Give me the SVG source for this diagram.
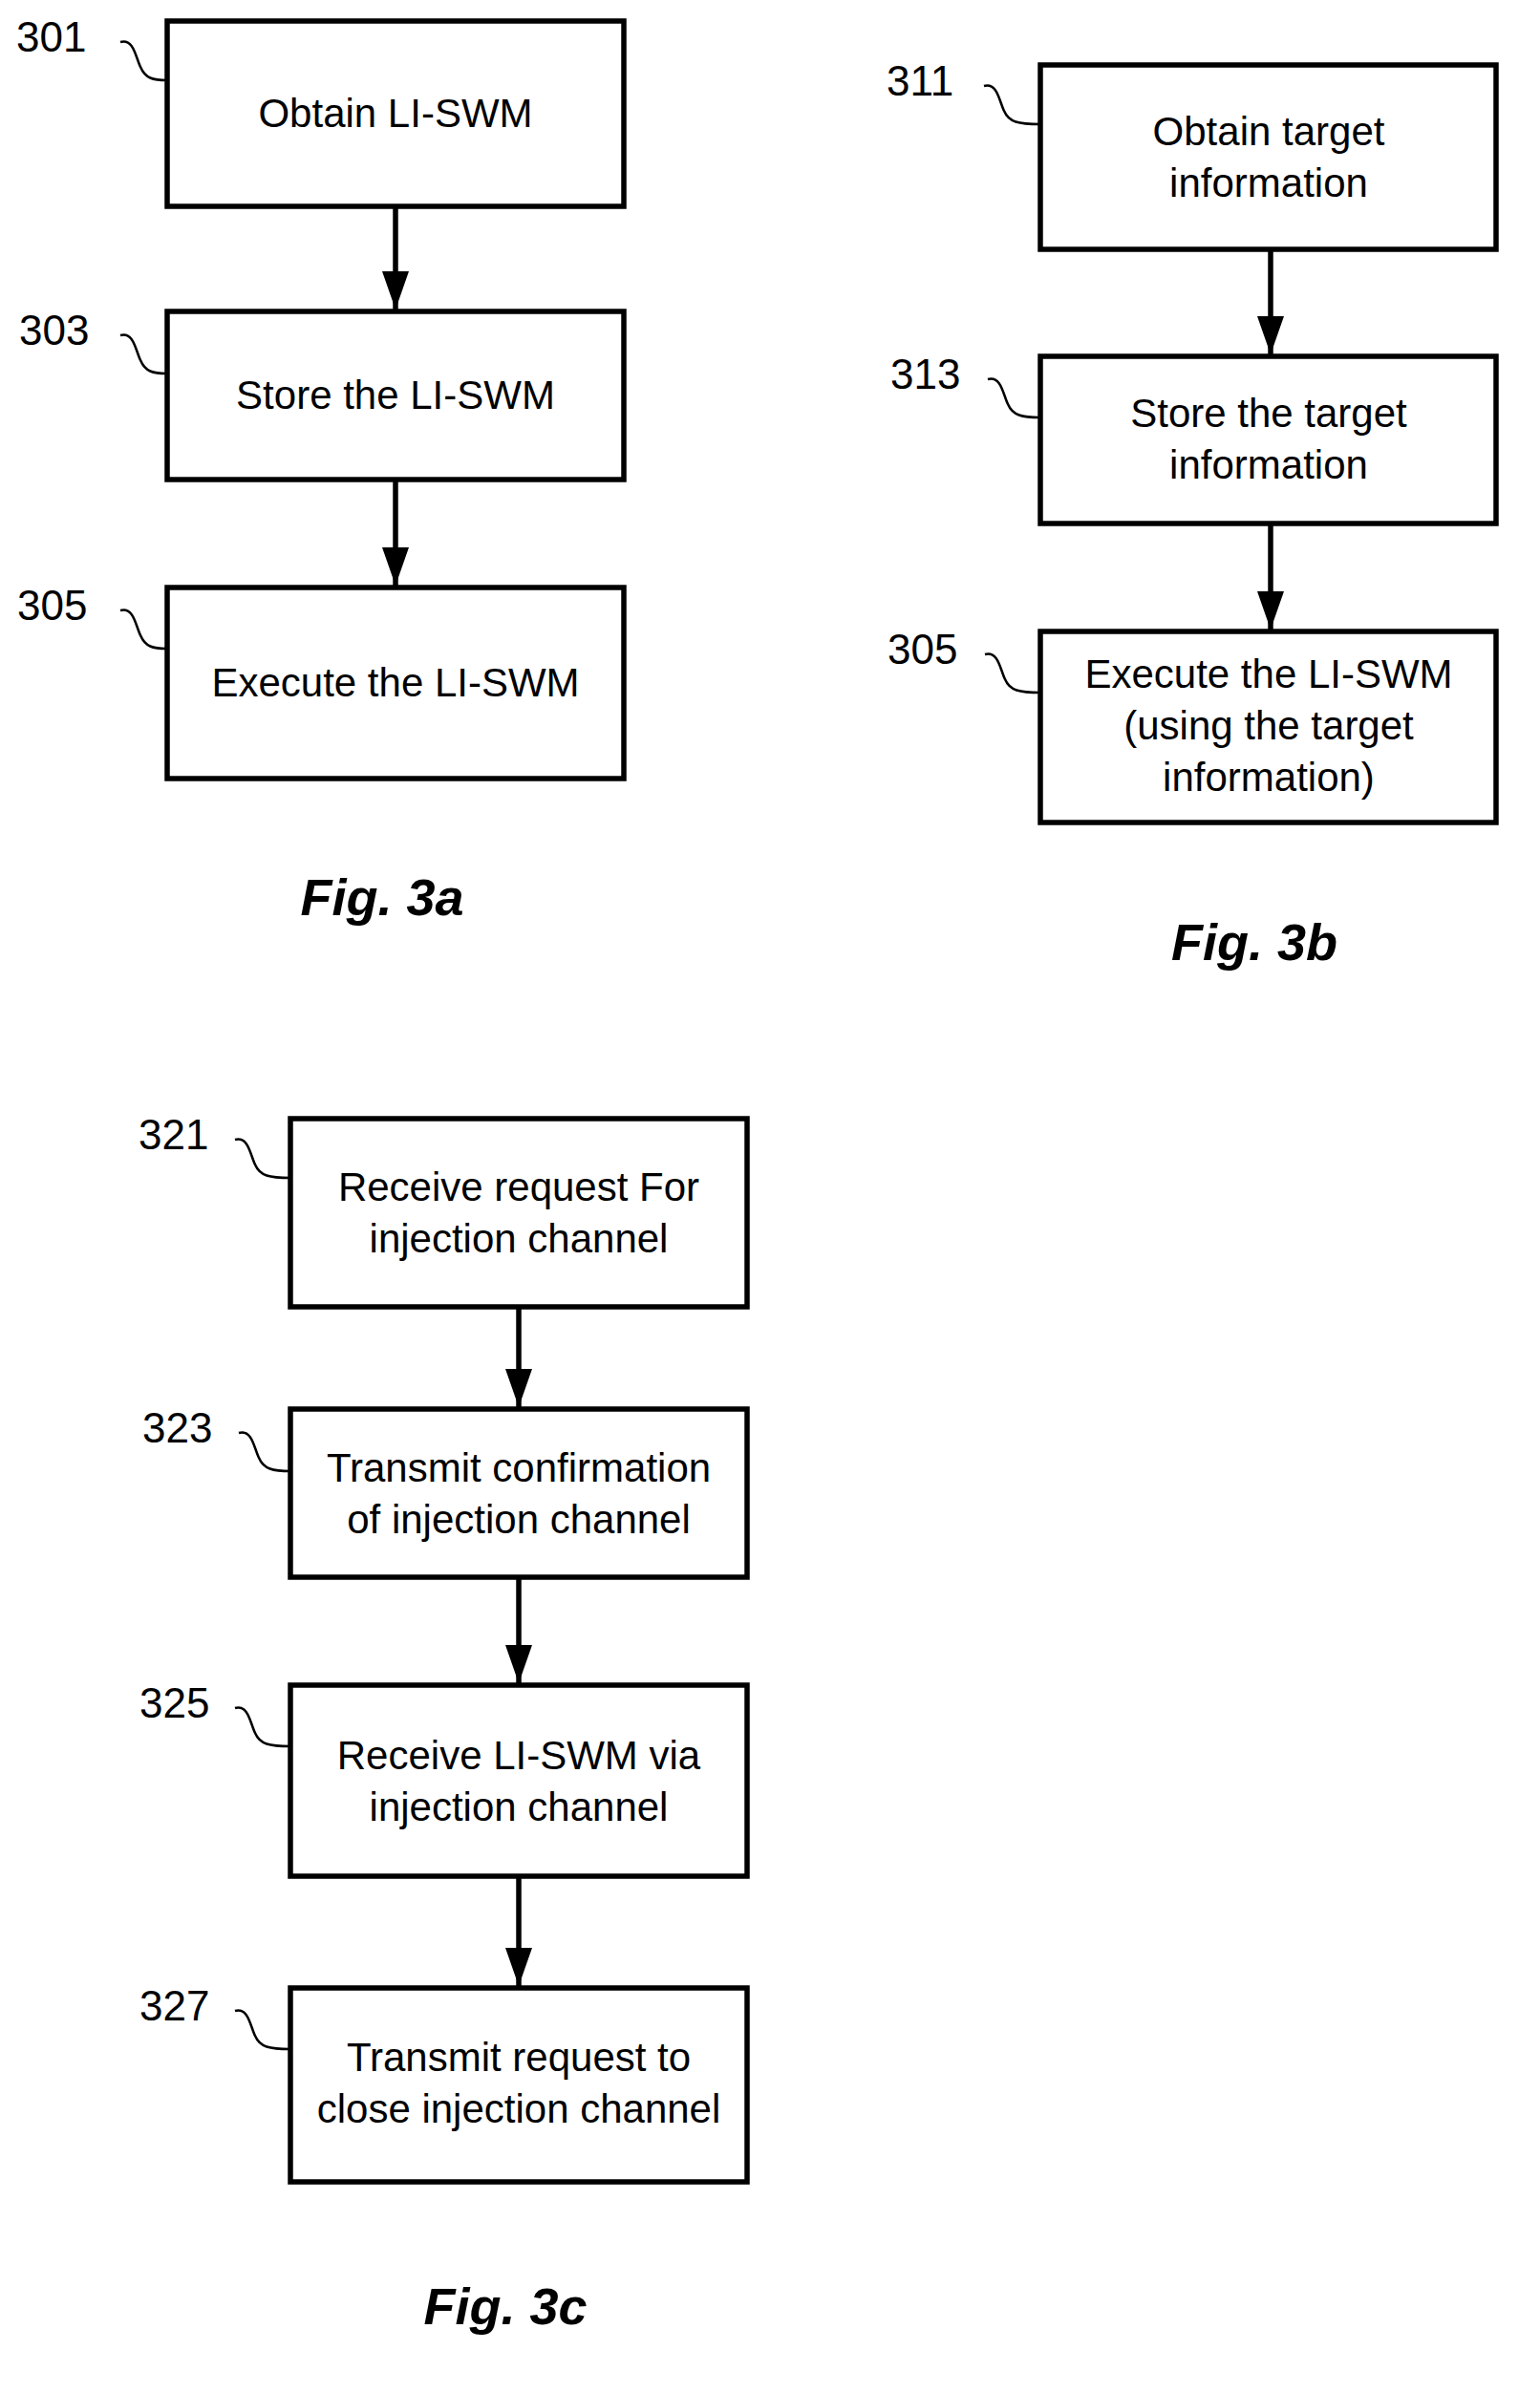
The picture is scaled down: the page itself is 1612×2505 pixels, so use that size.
<svg xmlns="http://www.w3.org/2000/svg" width="1612" height="2505" viewBox="0 0 1612 2505">
<style>
.b{fill:#fff;stroke:#000;stroke-width:5.5}
.t{font-family:"Liberation Sans",Arial,sans-serif;font-size:42px;text-anchor:middle;fill:#000}
.n{font-family:"Liberation Sans",Arial,sans-serif;font-size:44px;fill:#000}
.f{font-family:"Liberation Sans",Arial,sans-serif;font-size:54px;font-weight:bold;font-style:italic;text-anchor:middle}
.c{stroke:#000;stroke-width:5.5;fill:none}
.l{stroke:#000;stroke-width:2.5;fill:none}
</style>
<defs>
<marker id="ar" viewBox="0 0 10 10" refX="10" refY="5" markerWidth="40" markerHeight="40" markerUnits="userSpaceOnUse" orient="auto"><path d="M0,1.5 L10,5 L0,8.5z"/></marker></defs>
<g id="connectors">
<line class="c" x1="414" y1="216" x2="414" y2="324" marker-end="url(#ar)"/>
<line class="c" x1="414" y1="502" x2="414" y2="613" marker-end="url(#ar)"/>
<line class="c" x1="1330" y1="261" x2="1330" y2="371" marker-end="url(#ar)"/>
<line class="c" x1="1330" y1="548" x2="1330" y2="659" marker-end="url(#ar)"/>
<line class="c" x1="543" y1="1368" x2="543" y2="1473" marker-end="url(#ar)"/>
<line class="c" x1="543" y1="1651" x2="543" y2="1762" marker-end="url(#ar)"/>
<line class="c" x1="543" y1="1964" x2="543" y2="2079" marker-end="url(#ar)"/>
<path class="l" d="M126,44 C140,40 142,60 147,70 C152,82 160,84 175,84"/>
<path class="l" d="M126,351 C140,347 142,367 147,377 C152,389 160,391 175,391"/>
<path class="l" d="M126,639 C140,635 142,655 147,665 C152,677 160,679 175,679"/>
<path class="l" d="M1030,90 C1044,86 1046,106 1051,116 C1056,128 1066,130 1089,130"/>
<path class="l" d="M1034,397 C1048,393 1050,413 1055,423 C1060,435 1070,437 1089,437"/>
<path class="l" d="M1031,685 C1045,681 1047,701 1052,711 C1057,723 1067,725 1089,725"/>
<path class="l" d="M246,1193 C260,1189 262,1209 267,1219 C272,1231 282,1233 304,1233"/>
<path class="l" d="M250,1500 C264,1496 266,1516 271,1526 C276,1538 286,1540 304,1540"/>
<path class="l" d="M246,1788 C260,1784 262,1804 267,1814 C272,1826 282,1828 304,1828"/>
<path class="l" d="M246,2105 C260,2101 262,2121 267,2131 C272,2143 282,2145 304,2145"/>
</g>
<g id="n301"><rect class="b" x="175" y="22" width="478" height="194"/><text class="t" x="414" y="133">Obtain LI-SWM</text><text class="n" x="17" y="54">301</text></g>
<g id="n303"><rect class="b" x="175" y="326" width="478" height="176"/><text class="t" x="414" y="428">Store the LI-SWM</text><text class="n" x="20" y="361">303</text></g>
<g id="n305a"><rect class="b" x="175" y="615" width="478" height="200"/><text class="t" x="414" y="729">Execute the LI-SWM</text><text class="n" x="18" y="649">305</text></g>
<text class="f" x="400" y="958">Fig. 3a</text>
<g id="n311"><rect class="b" x="1089" y="68" width="477" height="193"/><text class="t" x="1328" y="152">Obtain target</text><text class="t" x="1328" y="206">information</text><text class="n" x="928" y="100">311</text></g>
<g id="n313"><rect class="b" x="1089" y="373" width="477" height="175"/><text class="t" x="1328" y="447">Store the target</text><text class="t" x="1328" y="501">information</text><text class="n" x="932" y="407">313</text></g>
<g id="n305b"><rect class="b" x="1089" y="661" width="477" height="200"/><text class="t" x="1328" y="720">Execute the LI-SWM</text><text class="t" x="1328" y="774">(using the target</text><text class="t" x="1328" y="828">information)</text><text class="n" x="929" y="695">305</text></g>
<text class="f" x="1313" y="1005">Fig. 3b</text>
<g id="n321"><rect class="b" x="304" y="1171" width="478" height="197"/><text class="t" x="543" y="1257">Receive request For</text><text class="t" x="543" y="1311">injection channel</text><text class="n" x="145" y="1203">321</text></g>
<g id="n323"><rect class="b" x="304" y="1475" width="478" height="176"/><text class="t" x="543" y="1551">Transmit confirmation</text><text class="t" x="543" y="1605">of injection channel</text><text class="n" x="149" y="1510">323</text></g>
<g id="n325"><rect class="b" x="304" y="1764" width="478" height="200"/><text class="t" x="543" y="1852">Receive LI-SWM via</text><text class="t" x="543" y="1906">injection channel</text><text class="n" x="146" y="1798">325</text></g>
<g id="n327"><rect class="b" x="304" y="2081" width="478" height="203"/><text class="t" x="543" y="2168">Transmit request to</text><text class="t" x="543" y="2222">close injection channel</text><text class="n" x="146" y="2115">327</text></g>
<text class="f" x="529" y="2433">Fig. 3c</text>
</svg>
